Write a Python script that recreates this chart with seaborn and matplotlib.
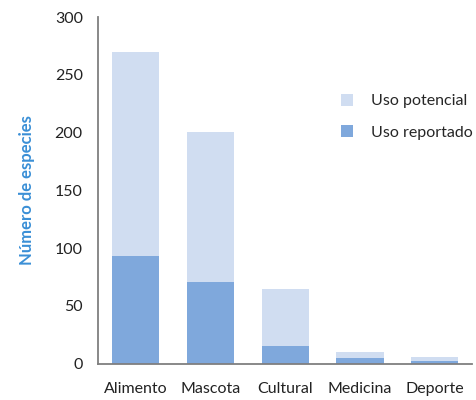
import matplotlib
matplotlib.use("Agg")
import matplotlib.pyplot as plt
import seaborn as sns
import pandas as pd
from matplotlib.patches import Patch

categorias = ["Alimento", "Mascota", "Cultural", "Medicina", "Deporte"]
uso_potencial = [270, 201, 65, 10, 6]
uso_reportado = [93, 71, 15, 5, 2]

sns.set_theme(style="white")
plt.rcParams['font.family'] = ['Lato', 'DejaVu Sans']

c_pot = "#D0DDF1"
c_rep = "#7FA8DC"

fig = plt.figure(figsize=(4.76, 4.0), dpi=100)
ax = fig.add_axes([0.206, 0.091, 0.786, 0.866])

df_p = pd.DataFrame({"cat": categorias, "val": uso_potencial})
df_r = pd.DataFrame({"cat": categorias, "val": uso_reportado})
sns.barplot(data=df_p, x="cat", y="val", color=c_pot, saturation=1, width=0.63, linewidth=0, ax=ax)
sns.barplot(data=df_r, x="cat", y="val", color=c_rep, saturation=1, width=0.63, linewidth=0, ax=ax)

ax.set_xlim(-0.5, 4.5)
ax.set_ylim(0, 300)
ax.set_yticks(range(0, 301, 50))
ax.set_xlabel("")
ax.set_ylabel("Número de especies", color="#3A8FD6", fontweight="bold", fontsize=12, labelpad=14)
ax.tick_params(axis="both", length=0, labelsize=11.5, colors="#222222")
ax.tick_params(axis="x", pad=13)
ax.tick_params(axis="y", pad=11)
for s in ["top", "right"]:
    ax.spines[s].set_visible(False)
for s in ["left", "bottom"]:
    ax.spines[s].set_color("#7f7f7f")
    ax.spines[s].set_linewidth(1.3)

handles = [Patch(facecolor=c_pot, edgecolor="none", label="Uso potencial"),
           Patch(facecolor=c_rep, edgecolor="none", label="Uso reportado")]
ax.legend(handles=handles, loc="upper left", bbox_to_anchor=(0.612, 0.82), frameon=False,
          fontsize=11.5, handlelength=0.75, handleheight=0.75, labelspacing=1.05, handletextpad=1.1)

fig.savefig("out.png", dpi=100)
